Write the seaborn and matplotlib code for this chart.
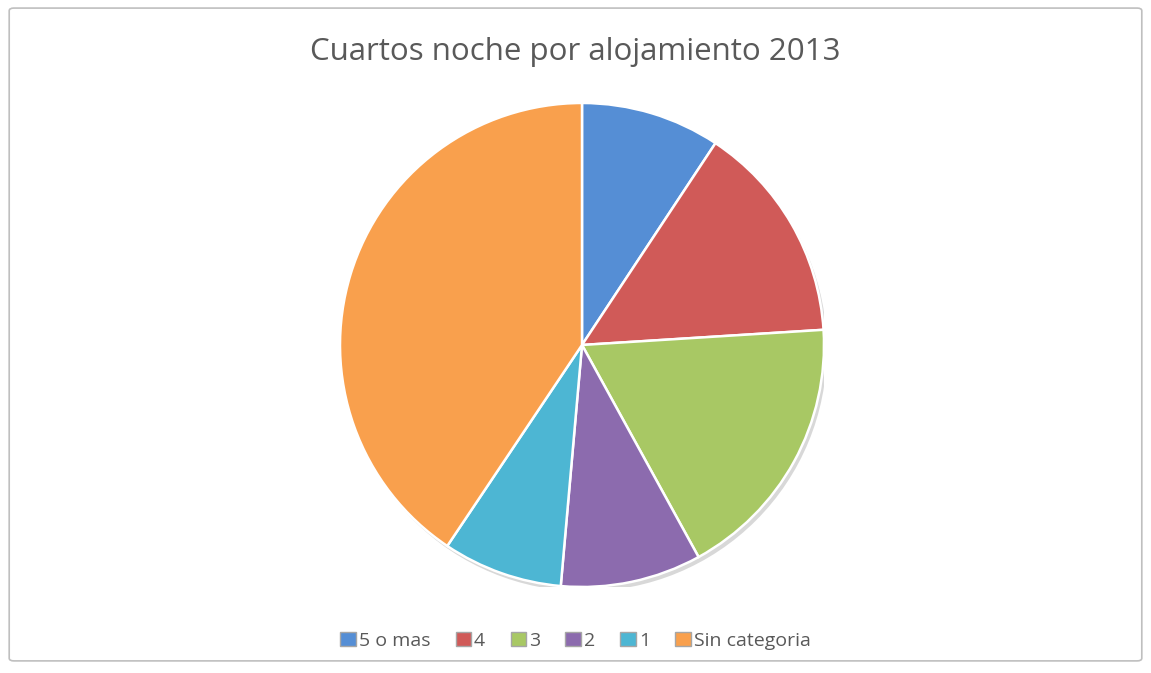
import matplotlib
matplotlib.use("Agg")
import matplotlib.pyplot as plt
import seaborn as sns
from matplotlib.patches import FancyBboxPatch, Circle

categories = ["5 o mas", "4", "3", "2", "1", "Sin categoria"]
values = [9.3, 14.7, 18.0, 9.4, 8.0, 40.6]
colors = ["#558ED5", "#D05A58", "#A8C864", "#8C6BAE", "#4DB6D3", "#F9A04D"]
title = "Cuartos noche por alojamiento 2013"

sns.set_theme(style="white")
plt.rcParams['font.family'] = ['Open Sans', 'DejaVu Sans']

fig = plt.figure(figsize=(11.51, 6.73), dpi=100)
fig.patch.set_facecolor("white")

# outer frame
frame = FancyBboxPatch((0.008, 0.018), 0.984, 0.97, boxstyle="round,pad=0,rounding_size=0.004",
                       transform=fig.transFigure, facecolor="none", edgecolor="#BFBFBF",
                       linewidth=1.2, zorder=-1)
fig.patches.append(frame)

ax = fig.add_axes([0.2954, 0.1278, 0.4205, 0.7192])
ax.set_facecolor("none")
# soft shadow
ax.add_patch(Circle((0.012, -0.018), 1.0, facecolor="#C8C8C8", edgecolor="none", zorder=0, alpha=0.7))
wedges, _ = ax.pie(values, colors=colors, startangle=90, counterclock=False,
                   radius=1.0,
                   wedgeprops=dict(edgecolor="white", linewidth=1.8))
for w in wedges:
    w.set_zorder(2)
ax.set_xlim(-1.0, 1.0)
ax.set_ylim(-1.0, 1.0)
ax.set_aspect("equal")
ax.axis("off")

fig.text(0.5, 0.922, title, ha="center", va="center", fontsize=22.5, color="#595959")

handles = [plt.Rectangle((0, 0), 1, 1, facecolor=c, edgecolor="#A6A6A6", linewidth=1) for c in colors]
fig.legend(handles, categories, loc="center", bbox_to_anchor=(0.5, 0.048), ncol=6, frameon=False,
           fontsize=14, handlelength=0.8, handleheight=0.8, handletextpad=0.15, columnspacing=1.3,
           labelcolor="#595959")

fig.savefig("out.png", dpi=100, facecolor="white")
